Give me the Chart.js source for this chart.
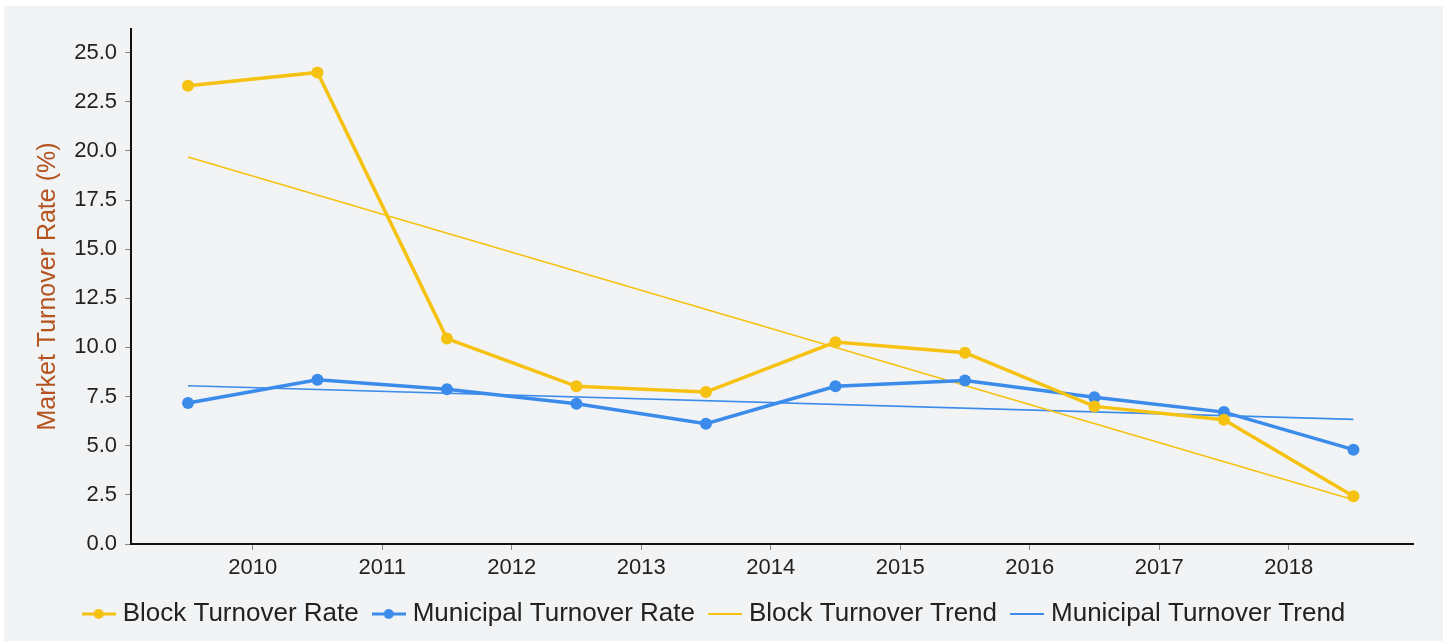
<!DOCTYPE html>
<html>
<head>
<meta charset="utf-8">
<script src="https://cdn.jsdelivr.net/npm/chart.js@4.4.1/dist/chart.umd.min.js"></script>
<style>
html, body { margin: 0; padding: 0; background: #fff; }
#wrap { position: absolute; left: 4px; top: 6px; width: 1439px; height: 635px; background: #f2f3f5; }
</style>
</head>
<body>
<div id="wrap"><canvas id="chart" width="1439" height="635"></canvas></div>
<script>
// values
const years = [2009, 2010, 2011, 2012, 2013, 2014, 2015, 2016, 2017, 2018];
const blockRate = [23.31, 23.99, 10.45, 8.02, 7.73, 10.27, 9.73, 7.00, 6.32, 2.43];
const municipalRate = [7.17, 8.36, 7.87, 7.14, 6.12, 8.02, 8.32, 7.47, 6.71, 4.80];
// trend lines: value at first and last year
const blockTrend = [19.69, 2.25];
const municipalTrend = [8.05, 6.34];
const xTicks = [2010, 2011, 2012, 2013, 2014, 2015, 2016, 2017, 2018];
const yTicks = [0, 2.5, 5, 7.5, 10, 12.5, 15, 17.5, 20, 22.5, 25];

const YELLOW = '#f5c211';
const BLUE = '#3b8beb';

// points sit in the middle of each year
function points(vals) {
    return vals.map((v, i) => ({ x: years[i] + 0.5, y: v }));
}
function trend(ends) {
    return [
        { x: years[0] + 0.5, y: ends[0] },
        { x: years[years.length - 1] + 0.5, y: ends[1] }
    ];
}

function legendMarker(color, withDot) {
    const c = document.createElement('canvas');
    c.width = 34;
    c.height = 14;
    const g = c.getContext('2d');
    g.strokeStyle = color;
    g.lineWidth = withDot ? 3 : 2;
    g.beginPath();
    g.moveTo(0, 7);
    g.lineTo(34, 7);
    g.stroke();
    if (withDot) {
        g.fillStyle = color;
        g.beginPath();
        g.arc(17, 7, 5, 0, Math.PI * 2);
        g.fill();
    }
    return c;
}
const markers = [
    legendMarker(YELLOW, true),
    legendMarker(BLUE, true),
    legendMarker(YELLOW, false),
    legendMarker(BLUE, false)
];

Chart.defaults.font.family = '"Liberation Sans", Arial, sans-serif';

new Chart(document.getElementById('chart'), {
    type: 'line',
    data: {
        datasets: [{
                label: 'Block Turnover Rate',
                data: points(blockRate),
                borderColor: YELLOW,
                backgroundColor: YELLOW,
                borderWidth: 3.5,
                pointRadius: 6,
                pointBorderWidth: 0,
                fill: false
            },
            {
                label: 'Municipal Turnover Rate',
                data: points(municipalRate),
                borderColor: BLUE,
                backgroundColor: BLUE,
                borderWidth: 3.5,
                pointRadius: 6,
                pointBorderWidth: 0,
                fill: false
            },
            {
                label: 'Block Turnover Trend',
                data: trend(blockTrend),
                borderColor: YELLOW,
                backgroundColor: YELLOW,
                borderWidth: 1.6,
                pointRadius: 0,
                fill: false
            },
            {
                label: 'Municipal Turnover Trend',
                data: trend(municipalTrend),
                borderColor: BLUE,
                backgroundColor: BLUE,
                borderWidth: 1.6,
                pointRadius: 0,
                fill: false
            }
        ]
    },
    options: {
        responsive: false,
        animation: false,
        layout: { padding: { top: 23, right: 30, left: 16, bottom: 4 } },
        plugins: {
            tooltip: { enabled: false },
            legend: {
                position: 'bottom',
                labels: {
                    usePointStyle: true,
                    pointStyleWidth: 22,
                    padding: 19,
                    color: '#222',
                    font: { size: 26 },
                    generateLabels: function(chart) {
                        const items = Chart.defaults.plugins.legend.labels.generateLabels(chart);
                        items.forEach((it, i) => { it.pointStyle = markers[i]; });
                        return items;
                    }
                }
            }
        },
        scales: {
            x: {
                type: 'linear',
                min: 2009.06,
                max: 2018.96,
                afterBuildTicks: a => { a.ticks = xTicks.map(v => ({ value: v })); },
                afterFit: a => { a.height = 38; },
                ticks: {
                    callback: v => String(v),
                    color: '#222',
                    font: { size: 22 },
                    padding: 5,
                    maxRotation: 0,
                    autoSkip: false
                },
                grid: { drawOnChartArea: false, drawTicks: true, tickLength: 6, color: '#888' },
                border: { color: '#111', width: 2 }
            },
            y: {
                min: 0,
                max: 26.2,
                afterBuildTicks: a => { a.ticks = yTicks.map(v => ({ value: v })); },
                afterFit: a => { a.width = 111; },
                ticks: {
                    callback: v => v.toFixed(1),
                    color: '#222',
                    font: { size: 22 },
                    padding: 8
                },
                grid: { drawOnChartArea: false, drawTicks: true, tickLength: 6, color: '#888' },
                border: { color: '#111', width: 2 },
                title: {
                    display: true,
                    text: 'Market Turnover Rate (%)',
                    color: '#b4531f',
                    font: { size: 25 },
                    padding: { top: 13, bottom: 0 }
                }
            }
        }
    }
});
</script>
</body>
</html>
